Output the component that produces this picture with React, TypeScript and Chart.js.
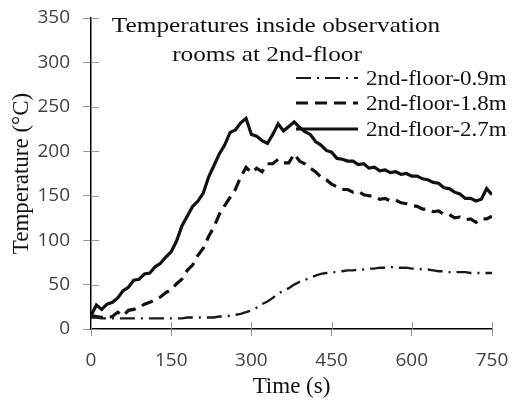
import React, { useEffect, useRef } from "react";
import { Chart, registerables } from "chart.js";

Chart.register(...registerables);

// Time (s)
const times = [
  0, 10, 20, 30, 40, 50, 60, 70, 80, 90,
  100, 110, 120, 130, 140, 150, 160, 170, 180, 190,
  200, 210, 220, 230, 240, 250, 260, 270, 280, 290,
  300, 310, 320, 330, 340, 350, 360, 370, 380, 390,
  400, 410, 420, 430, 440, 450, 460, 470, 480, 490,
  500, 510, 520, 530, 540, 550, 560, 570, 580, 590,
  600, 610, 620, 630, 640, 650, 660, 670, 680, 690,
  700, 710, 720, 730, 740, 750,
];

// 2nd-floor-0.9m (°C)
const temp09 = [
  13, 13, 12, 12, 12, 12, 12, 12, 12, 12,
  12, 12, 12, 12, 12, 12, 12, 12, 13, 13,
  13, 13, 13, 13, 14, 14, 15, 16, 17, 19,
  21, 24, 28, 31, 35, 40, 43, 46, 50, 53,
  55, 58, 60, 62, 63, 64, 64, 65, 66, 66,
  67, 67, 68, 68, 69, 69, 70, 69, 69, 69,
  68, 68, 67, 67, 66, 65, 65, 64, 64, 64,
  64, 63, 63, 63, 63, 63,
];

// 2nd-floor-1.8m (°C)
const temp18 = [
  15, 14, 13, 13, 14, 19, 15, 21, 22, 24,
  28, 30, 33, 36, 41, 44, 51, 56, 66, 72,
  83, 91, 104, 115, 129, 139, 148, 157, 171, 182,
  176, 181, 177, 186, 186, 191, 187, 187, 197, 189,
  186, 181, 177, 171, 168, 163, 160, 157, 157, 154,
  155, 151, 150, 149, 146, 147, 144, 145, 142, 141,
  139, 138, 135, 135, 132, 133, 129, 129, 125, 126,
  123, 124, 120, 124, 124, 127,
];

// 2nd-floor-2.7m (°C)
const temp27 = [
  15, 27, 22, 28, 30, 35, 43, 47, 55, 56,
  62, 63, 70, 74, 81, 87, 99, 116, 127, 138,
  144, 153, 171, 184, 197, 207, 221, 224, 232, 237,
  219, 217, 212, 209, 219, 231, 223, 228, 233, 227,
  222, 219, 211, 207, 201, 199, 192, 191, 189, 189,
  185, 186, 181, 182, 178, 179, 176, 177, 174, 175,
  172, 172, 169, 168, 165, 164, 159, 158, 154, 152,
  147, 147, 144, 146, 158, 151,
];

const seriesLabels = ["2nd-floor-0.9m", "2nd-floor-1.8m", "2nd-floor-2.7m"];
const titleLines = ["Temperatures inside observation", "rooms at 2nd-floor"];
const xAxisTitle = "Time (s)";
const yAxisTitle = "Temperature (°C)";

const SERIF = '"Liberation Serif", "Times New Roman", serif';
const SANS = '"Open Sans", sans-serif';

const overlayPlugin = {
  id: "overlay",
  beforeDatasetsDraw(chart: any) {
    const { ctx, chartArea, scales } = chart;
    const x = scales.x;
    const y = scales.y;
    ctx.save();
    ctx.strokeStyle = "#9a9a9a";
    ctx.lineWidth = 1;
    y.ticks.forEach((_t: any, i: number) => {
      const py = Math.round(y.getPixelForTick(i)) + 0.5;
      ctx.beginPath();
      ctx.moveTo(chartArea.left, py);
      ctx.lineTo(chartArea.left + 8, py);
      ctx.stroke();
    });
    x.ticks.forEach((_t: any, i: number) => {
      const px = Math.round(x.getPixelForTick(i)) + 0.5;
      ctx.beginPath();
      ctx.moveTo(px, chartArea.bottom);
      ctx.lineTo(px, chartArea.bottom - 7);
      ctx.stroke();
    });
    ctx.restore();
  },
  afterDatasetsDraw(chart: any) {
    const ctx = chart.ctx;
    const sx = 1.15;
    ctx.save();
    ctx.fillStyle = "#111";
    ctx.textBaseline = "alphabetic";
    // title
    ctx.font = `22px ${SERIF}`;
    ctx.textAlign = "center";
    const titlePos = [
      { cx: 276, by: 32 },
      { cx: 267, by: 61 },
    ];
    titleLines.forEach((line, i) => {
      ctx.save();
      ctx.translate(titlePos[i].cx, titlePos[i].by);
      ctx.scale(sx, 1);
      ctx.fillText(line, 0, 0);
      ctx.restore();
    });
    // legend
    const rows = [78, 103, 129];
    const legendWidths = [1.8, 3, 3];
    ctx.font = `20px ${SERIF}`;
    ctx.textAlign = "left";
    chart.data.datasets.forEach((ds: any, i: number) => {
      const yc = rows[i];
      ctx.save();
      ctx.strokeStyle = ds.borderColor;
      ctx.lineWidth = legendWidths[i];
      ctx.setLineDash(ds.borderDash || []);
      ctx.beginPath();
      ctx.moveTo(296, yc);
      ctx.lineTo(358, yc);
      ctx.stroke();
      ctx.restore();
      ctx.save();
      ctx.translate(366, yc + 7);
      ctx.scale(sx, 1);
      ctx.fillText(ds.label, 0, 0);
      ctx.restore();
    });
    ctx.restore();
  },
};

export default function App() {
  const canvasRef = useRef<HTMLCanvasElement | null>(null);

  useEffect(() => {
    document.body.style.margin = "0";
    const canvas = canvasRef.current;
    if (!canvas) return;
    const toPts = (vals: number[]) => times.map((t, i) => ({ x: t, y: vals[i] }));
    const chart = new Chart(canvas, {
      type: "line",
      data: {
        datasets: [
          {
            label: seriesLabels[0],
            data: toPts(temp09),
            borderColor: "#1a1a1a",
            borderWidth: 2.4,
            borderDash: [15, 6, 2, 6],
            pointRadius: 0,
            tension: 0,
            fill: false,
          },
          {
            label: seriesLabels[1],
            data: toPts(temp18),
            borderColor: "#111",
            borderWidth: 3.2,
            borderDash: [12, 7],
            pointRadius: 0,
            tension: 0,
            fill: false,
          },
          {
            label: seriesLabels[2],
            data: toPts(temp27),
            borderColor: "#111",
            borderWidth: 3.2,
            pointRadius: 0,
            tension: 0,
            fill: false,
          },
        ],
      },
      options: {
        animation: false,
        responsive: false,
        events: [],
        layout: { padding: { top: 18, right: 20, left: 0, bottom: 0 } },
        plugins: {
          legend: { display: false },
          title: { display: false },
          tooltip: { enabled: false },
        },
        scales: {
          x: {
            type: "linear",
            min: 0,
            max: 750,
            afterFit: (s: any) => {
              s.height = 74;
              s.paddingLeft = 0;
              s.paddingRight = 0;
            },
            ticks: {
              stepSize: 150,
              color: "#404040",
              font: { family: SANS, size: 19 },
              padding: 13,
              maxRotation: 0,
            },
            grid: {
              drawOnChartArea: false,
              drawTicks: true,
              tickLength: 7,
              tickColor: "#9a9a9a",
            },
            border: { color: "#000", width: 1.5 },
            title: {
              display: true,
              text: xAxisTitle,
              color: "#111",
              font: { family: SERIF, size: 23 },
              padding: { top: 0, bottom: 2 },
            },
          },
          y: {
            type: "linear",
            min: 0,
            max: 350,
            afterFit: (s: any) => {
              s.width = 91;
              s.paddingTop = 0;
              s.paddingBottom = 0;
            },
            ticks: {
              stepSize: 50,
              color: "#404040",
              font: { family: SANS, size: 19 },
              padding: 13,
            },
            grid: {
              drawOnChartArea: false,
              drawTicks: true,
              tickLength: 8,
              tickColor: "#9a9a9a",
            },
            border: { color: "#000", width: 1.5 },
            title: {
              display: true,
              text: yAxisTitle,
              color: "#111",
              font: { family: SERIF, size: 23 },
              padding: { top: 8, bottom: 0 },
            },
          },
        },
      },
      plugins: [overlayPlugin],
    });
    return () => chart.destroy();
  }, []);

  return (
    <div style={{ width: 512, height: 403, background: "#fff" }}>
      <canvas ref={canvasRef} width={512} height={403} style={{ display: "block" }} />
    </div>
  );
}
